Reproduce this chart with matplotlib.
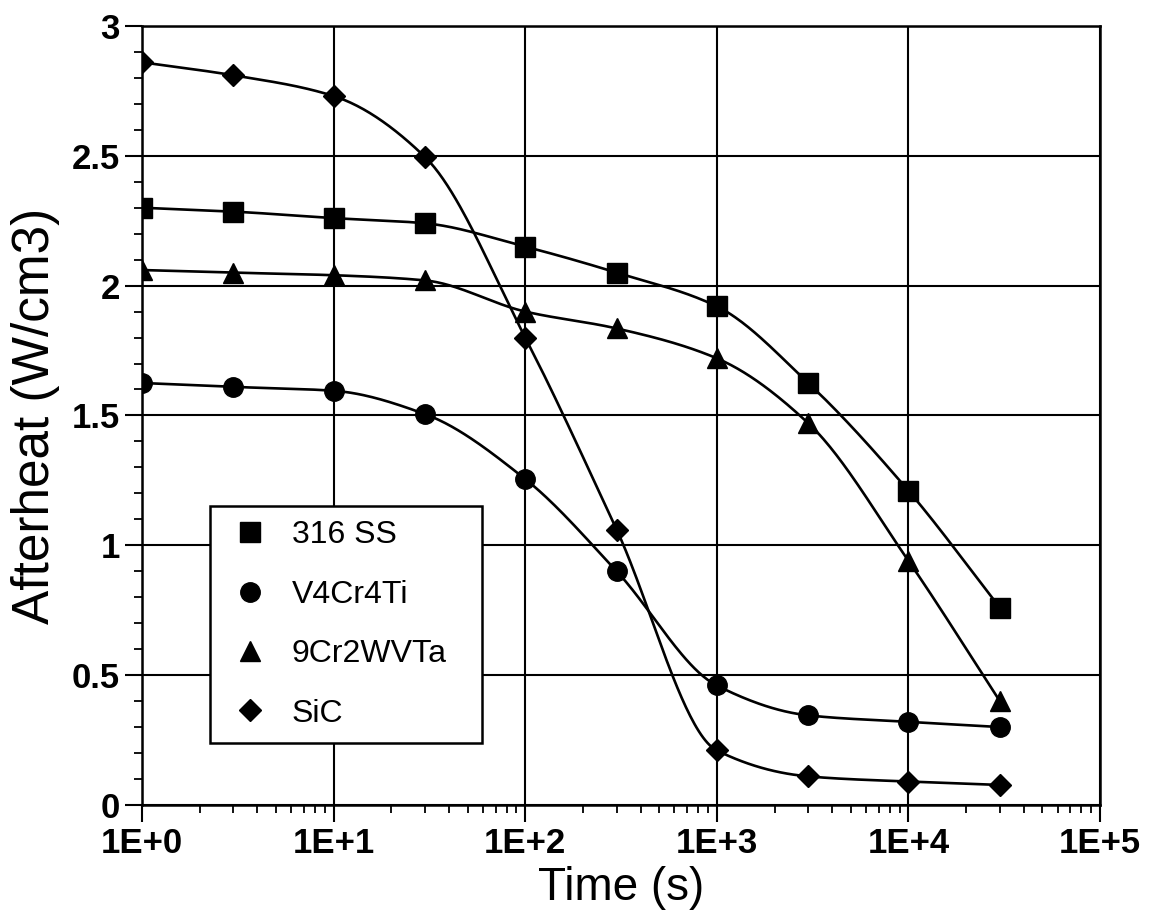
import numpy as np
import matplotlib
matplotlib.use("Agg")
import matplotlib.pyplot as plt
from matplotlib.ticker import FixedLocator, FuncFormatter, MultipleLocator, LogLocator, NullFormatter

plt.rcParams['font.family'] = ['Liberation Sans', 'DejaVu Sans']

# decay times (s) and afterheat (W/cm3)
times = [1, 3, 10, 30, 100, 300, 1000, 3000, 10000, 30000]
ss316 = [2.30, 2.285, 2.26, 2.24, 2.15, 2.05, 1.92, 1.625, 1.21, 0.76]
v4cr4ti = [1.625, 1.61, 1.595, 1.505, 1.255, 0.90, 0.46, 0.345, 0.32, 0.30]
cr9wvta = [2.06, 2.05, 2.04, 2.02, 1.90, 1.835, 1.72, 1.47, 0.94, 0.40]
sic = [2.86, 2.81, 2.73, 2.495, 1.80, 1.06, 0.21, 0.11, 0.09, 0.077]

labels = ['316 SS', 'V4Cr4Ti', '9Cr2WVTa', 'SiC']
markers = ['s', 'o', '^', 'D']
msizes = [14, 14, 14, 11]


def pchip(x, y, xn):
    '''monotone cubic through the points (used only to draw the smooth line)'''
    x = np.asarray(x, float)
    y = np.asarray(y, float)
    h = np.diff(x)
    d = np.diff(y) / h
    m = np.zeros_like(y)
    m[0] = d[0]
    m[-1] = d[-1]
    for k in range(1, len(x) - 1):
        if d[k - 1] * d[k] > 0:
            w1 = 2 * h[k] + h[k - 1]
            w2 = h[k] + 2 * h[k - 1]
            m[k] = (w1 + w2) / (w1 / d[k - 1] + w2 / d[k])
    idx = np.clip(np.searchsorted(x, xn) - 1, 0, len(x) - 2)
    t = (xn - x[idx]) / h[idx]
    h00 = 2 * t**3 - 3 * t**2 + 1
    h10 = t**3 - 2 * t**2 + t
    h01 = -2 * t**3 + 3 * t**2
    h11 = t**3 - t**2
    return h00 * y[idx] + h10 * h[idx] * m[idx] + h01 * y[idx + 1] + h11 * h[idx] * m[idx + 1]


fig = plt.figure(figsize=(11.52, 9.17), dpi=100)
ax = fig.add_axes([0.1233, 0.1222, 0.8316, 0.8495])

lx = np.log10(times)
xs = np.linspace(lx[0], lx[-1], 400)
for vals, lab, mk, ms in zip([ss316, v4cr4ti, cr9wvta, sic], labels, markers, msizes):
    ax.plot(10**xs, pchip(lx, vals, xs), color='black', lw=1.9, zorder=3)
    ax.plot(times, vals, linestyle='none', marker=mk, ms=ms, color='black',
            mec='black', zorder=4, label=lab)

ax.set_xscale('log')
ax.set_xlim(1, 1e5)
ax.set_ylim(0, 3)

ax.xaxis.set_major_locator(FixedLocator([1, 10, 100, 1000, 1e4, 1e5]))
ax.xaxis.set_major_formatter(FuncFormatter(lambda v, p: '1E+%d' % int(round(np.log10(v)))))
ax.xaxis.set_minor_locator(LogLocator(base=10, subs=np.arange(2, 10), numticks=20))
ax.xaxis.set_minor_formatter(NullFormatter())
ax.yaxis.set_major_locator(MultipleLocator(0.5))
ax.yaxis.set_minor_locator(MultipleLocator(0.1))
ax.yaxis.set_major_formatter(FuncFormatter(lambda v, p: '%g' % v))

ax.grid(True, which='major', color='black', lw=1.5)
ax.set_axisbelow(True)
for s in ax.spines.values():
    s.set_linewidth(1.8)

ax.tick_params(which='major', direction='out', length=12, width=1.5, pad=4,
               labelsize=25)
ax.tick_params(which='minor', direction='out', length=6, width=1.3)
for t in ax.get_xticklabels() + ax.get_yticklabels():
    t.set_fontweight('bold')

ax.set_xlabel('Time (s)', fontsize=33, labelpad=4)
ax.set_ylabel('Afterheat (W/cm3)', fontsize=37, labelpad=8)

leg = ax.legend(loc='lower left', bbox_to_anchor=(0.071, 0.0796, 0.284, 0.3),
                mode='expand', borderaxespad=0,
                fontsize=23, frameon=True, fancybox=False, edgecolor='black',
                framealpha=1, handlelength=1.6, handletextpad=0.5,
                labelspacing=0.92, borderpad=0.45, markerscale=1.0)
leg.get_frame().set_linewidth(1.8)
leg.set_zorder(5)

fig.savefig('out.png', dpi=100)
